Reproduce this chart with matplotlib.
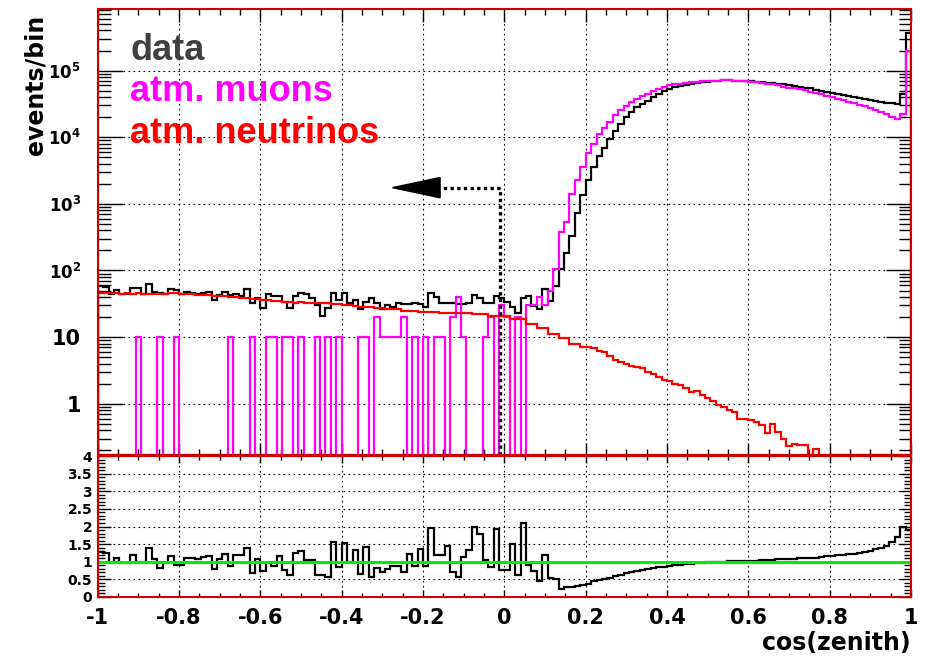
import numpy as np
import matplotlib
matplotlib.use('Agg')
from matplotlib import pyplot as plt
from matplotlib.ticker import FixedLocator, FixedFormatter, MultipleLocator, LogLocator, NullFormatter, FuncFormatter

plt.rcParams['font.family'] = ['DejaVu Sans']
plt.rcParams['font.weight'] = 'bold'
plt.rcParams['mathtext.fontset'] = 'dejavusans'

# 150 bins in cos(zenith) from -1 to 1
edges = np.linspace(-1, 1, 151)

data = [58, 57, 44, 51, 44, 45, 54, 54, 44, 63,
        47, 46, 44, 52, 51, 44, 47, 46, 44, 46,
        47, 36, 43, 48, 43, 45, 42, 53, 33, 39,
        27, 44, 41, 42, 34, 27, 41, 46, 44, 38,
        30, 21, 27, 46, 36, 46, 32, 36, 26, 34,
        38, 32, 26, 30, 28, 32, 31, 31, 33, 31,
        28, 46, 40, 32, 32, 32, 31, 31, 32, 43,
        38, 32, 32, 42, 39, 34, 28, 23, 38, 41,
        29, 26, 52, 35, 59, 105, 186, 330, 740, 1340,
        2250, 3600, 5300, 6900, 9400, 12400, 16000, 19900, 24000, 28000,
        31000, 35000, 39500, 44500, 49000, 52500, 56000, 58500, 60800, 63000,
        65000, 66800, 68400, 69800, 70800, 71300, 71300, 70800, 70800, 70000,
        69200, 68400, 67600, 66100, 65300, 63800, 62400, 60300, 58900, 57500,
        55600, 54300, 51900, 50100, 48400, 46800, 45200, 43600, 42200, 40700,
        39400, 38000, 36700, 35500, 34300, 33100, 32400, 32000, 44700, 367000]

muons = [0, 0, 0, 0, 0, 0, 0, 10, 0, 0,
         0, 10, 0, 0, 10, 0, 0, 0, 0, 0,
         0, 0, 0, 0, 10, 0, 0, 0, 10, 0,
         0, 10, 10, 0, 10, 10, 0, 10, 0, 0,
         10, 0, 10, 0, 10, 0, 0, 0, 10, 10,
         0, 20, 10, 10, 10, 10, 20, 0, 10, 0,
         10, 0, 10, 10, 0, 20, 40, 10, 0, 0,
         0, 10, 20, 0, 30, 20, 0, 20, 0, 30,
         30, 40, 30, 50, 105, 380, 535, 1400, 2250, 3550,
         5800, 7800, 11000, 13800, 17000, 21400, 25400, 29200, 33900, 38000,
         41200, 44700, 49000, 53700, 57500, 60300, 62400, 63800, 65300, 66800,
         68400, 69200, 70000, 70800, 70800, 71300, 71300, 70800, 70800, 69200,
         68400, 67600, 66100, 63800, 62400, 60300, 57500, 55600, 54300, 52500,
         50700, 48400, 46200, 44200, 42200, 39800, 37900, 36300, 34300, 32400,
         30900, 29000, 27500, 26000, 24000, 22400, 20000, 19000, 22400, 195000]

neutrinos = [46, 46, 46, 46, 45, 46, 45, 46, 45, 45,
             45, 45, 45, 46, 46, 45, 44, 44, 43, 43,
             43, 42, 41, 41, 40, 40, 39, 38, 37, 37,
             36, 36, 35, 35, 34, 34, 33, 34, 33, 33,
             32, 32, 32, 31, 31, 30, 30, 29, 28, 28,
             28, 27, 27, 26, 26, 26, 25, 25, 25, 24,
             24, 24, 24, 23, 23, 23, 23, 23, 23, 22,
             22, 22, 21, 21, 20.5, 20.5, 19, 18.5, 18.5, 15.6,
             15.6, 13.7, 13.7, 11, 11, 9.8, 9.8, 8, 8, 7,
             7, 6.8, 6.2, 6.0, 5.2, 4.6, 4.3, 4.0, 3.7, 3.5,
             3.4, 3.0, 2.8, 2.5, 2.3, 2.2, 2.0, 1.9, 1.7, 1.5,
             1.55, 1.35, 1.2, 1.1, 0.95, 0.9, 0.8, 0.75, 0.6, 0.58,
             0.57, 0.54, 0.48, 0.36, 0.5, 0.37, 0.30, 0.23, 0.25, 0.24,
             0.24, 0, 0.21, 0, 0, 0, 0, 0, 0, 0,
             0, 0, 0, 0, 0, 0, 0, 0, 0, 0]

ratio = [1.29, 1.25, 0.96, 1.12, 0.97, 0.97, 1.20, 0.98, 0.98, 1.40,
         1.08, 0.83, 0.96, 1.15, 0.92, 0.92, 1.12, 1.10, 1.07, 1.13,
         1.15, 0.80, 1.08, 1.22, 0.87, 1.20, 1.20, 1.40, 0.68, 1.08,
         0.75, 0.96, 0.87, 1.16, 0.77, 0.61, 1.25, 1.30, 1.04, 1.04,
         0.61, 0.61, 0.58, 1.56, 0.85, 1.53, 0.99, 1.32, 0.66, 1.43,
         0.58, 0.83, 0.71, 0.80, 0.87, 0.87, 0.71, 1.21, 0.87, 1.37,
         0.87, 1.96, 1.18, 1.18, 1.46, 0.71, 0.58, 1.13, 1.32, 2.00,
         1.79, 1.04, 0.85, 1.93, 0.78, 0.78, 1.51, 0.61, 2.10, 0.92,
         0.75, 0.45, 1.20, 0.55, 0.50, 0.24, 0.28, 0.28, 0.31, 0.35,
         0.38, 0.44, 0.49, 0.52, 0.55, 0.59, 0.63, 0.68, 0.71, 0.74,
         0.77, 0.79, 0.81, 0.84, 0.86, 0.88, 0.90, 0.92, 0.93, 0.95,
         0.96, 0.97, 0.98, 0.99, 1.00, 1.00, 1.01, 1.02, 1.02, 1.03,
         1.03, 1.03, 1.04, 1.05, 1.06, 1.07, 1.07, 1.08, 1.09, 1.10,
         1.10, 1.11, 1.12, 1.13, 1.15, 1.16, 1.18, 1.19, 1.21, 1.23,
         1.26, 1.28, 1.31, 1.35, 1.40, 1.46, 1.56, 1.70, 2.00, 1.90]

legend_labels = ['data', 'atm. muons', 'atm. neutrinos']
legend_colors = ['#404040', '#ff00ff', '#ff0000']

# cut: cos(zenith) < cut_value, shown as dotted line with arrow
cut_value = -0.01
arrow_level = 1750
arrow_tip = -0.275
arrow_base = -0.158

ymin, ymax = 0.17, 8.4e5
frame_col = '#cc0000'
grid_ls = (0, (1.5, 3))

fig = plt.figure(figsize=(9.29, 6.56), dpi=100)
ax1 = fig.add_axes([97.7/929, 1-455/656, 813.3/929, 446/656])
ax2 = fig.add_axes([97.7/929, 1-597/656, 813.3/929, 141/656])

def clip(v):
    return np.clip(np.asarray(v, dtype=float), ymin, None)

ax1.set_yscale('log')
ax1.stairs(clip(data), edges, baseline=ymin, color='black', lw=1.6, zorder=3)
ax1.stairs(clip(muons), edges, baseline=ymin, color='#ff00ff', lw=1.6, zorder=4)
ax1.stairs(clip(neutrinos), edges, baseline=ymin, color='#ff0000', lw=1.6, zorder=5)

# cut line and arrow
ax1.plot([cut_value, cut_value], [ymin, arrow_level], color='black', lw=2.4,
         linestyle=(0, (1, 1)), zorder=6)
ax1.plot([cut_value, arrow_base], [arrow_level, arrow_level], color='black', lw=2.4,
         linestyle=(0, (1, 1)), zorder=6)
ax1.fill([arrow_tip, arrow_base, arrow_base],
         [arrow_level, arrow_level*1.42, arrow_level/1.42], color='black', zorder=6)

ax1.set_xlim(-1, 1)
ax1.set_ylim(ymin, ymax)
ax1.yaxis.set_major_locator(FixedLocator([1, 10, 1e2, 1e3, 1e4, 1e5]))
ax1.yaxis.set_major_formatter(FixedFormatter(['1', '10', r'$\mathbf{10^{2}}$', r'$\mathbf{10^{3}}$',
                                              r'$\mathbf{10^{4}}$', r'$\mathbf{10^{5}}$']))
ax1.yaxis.set_minor_locator(LogLocator(base=10, subs=np.arange(2, 10), numticks=20))
ax1.yaxis.set_minor_formatter(NullFormatter())
ax1.xaxis.set_major_locator(MultipleLocator(0.2))
ax1.xaxis.set_minor_locator(MultipleLocator(0.05))
ax1.tick_params(axis='both', which='both', direction='in', top=True, right=True,
                labelbottom=False, width=1.0)
ax1.tick_params(axis='y', which='major', length=18, labelsize=15, pad=12)
ax1.tick_params(axis='y', which='minor', length=9)
ax1.tick_params(axis='x', which='major', length=9)
ax1.tick_params(axis='x', which='minor', length=4.5)
ax1.grid(True, which='major', color='black', linestyle=grid_ls, lw=0.8)
for lab in ax1.get_yticklabels():
    if '^' in lab.get_text():
        lab.set_fontsize(12)

for i, (lab, col) in enumerate(zip(legend_labels, legend_colors)):
    ax1.text(0.04, 0.886 - i*0.093, lab, color=col, fontsize=26, fontweight='bold',
             family=['Liberation Sans', 'DejaVu Sans'],
             transform=ax1.transAxes, va='baseline', zorder=7)

fig.text(36/929, 1-15/656, 'events/bin', rotation=90, ha='center', va='top',
         fontsize=17, fontweight='bold')

# ratio panel
ax2.stairs(ratio, edges, baseline=None, color='black', lw=1.6, zorder=3)
ax2.axhline(1, color='#00ee00', lw=2.2, zorder=4)
ax2.set_xlim(-1, 1)
ax2.set_ylim(0, 4)
ax2.xaxis.set_major_locator(MultipleLocator(0.2))
ax2.xaxis.set_minor_locator(MultipleLocator(0.05))
ax2.yaxis.set_major_locator(MultipleLocator(0.5))
ax2.yaxis.set_minor_locator(MultipleLocator(0.1))
ax2.xaxis.set_major_formatter(FuncFormatter(lambda v, p: '%g' % round(v, 2)))
ax2.yaxis.set_major_formatter(FuncFormatter(lambda v, p: '%g' % round(v, 2)))
ax2.tick_params(axis='both', which='both', direction='in', top=True, right=True, width=1.0)
ax2.tick_params(axis='x', which='major', length=5, labelsize=15, pad=8)
ax2.tick_params(axis='x', which='minor', length=3)
ax2.tick_params(axis='y', which='major', length=9, labelsize=10, pad=4)
ax2.tick_params(axis='y', which='minor', length=5)
ax2.grid(True, which='major', color='black', linestyle=grid_ls, lw=0.8)
ax2.set_xlabel('cos(zenith)', loc='right', fontsize=17, fontweight='bold', labelpad=2)

for ax in (ax1, ax2):
    for s in ax.spines.values():
        s.set_color(frame_col)
        s.set_linewidth(1.5)
        s.set_zorder(8)

fig.savefig('out.png', dpi=100)
